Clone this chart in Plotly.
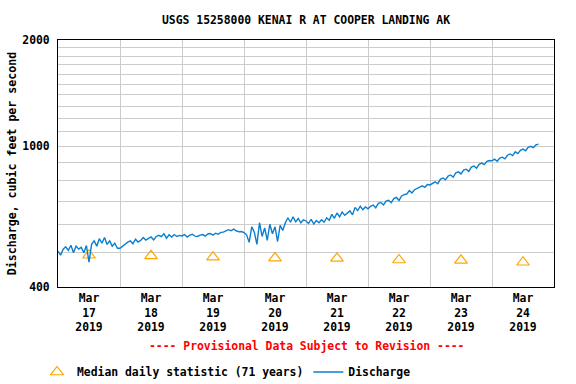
import pandas as pd
import plotly.graph_objects as go

# Median daily statistic (71 years), one value per day (plotted at noon)
median_days = ["2019-03-17", "2019-03-18", "2019-03-19", "2019-03-20",
               "2019-03-21", "2019-03-22", "2019-03-23", "2019-03-24"]
median_values = [492, 490, 486, 483, 482, 477, 476, 470]

# Discharge, hourly readings starting 2019-03-17 00:00 (cfs)
q_mar17 = [505, 492, 512, 520, 508, 525, 500, 522, 512, 518, 500, 524,
           470, 528, 540, 522, 548, 532, 552, 528, 540, 522, 532, 515]
q_mar18 = [515, 522, 530, 536, 540, 530, 546, 536, 542, 552, 543, 548,
           554, 544, 556, 560, 555, 566, 550, 562, 554, 563, 556, 560]
q_mar19 = [558, 563, 554, 561, 564, 557, 556, 561, 563, 557, 565, 567,
           561, 568, 564, 571, 572, 577, 581, 577, 583, 577, 573, 574]
q_mar20 = [570, 562, 535, 592, 572, 528, 608, 556, 588, 542, 602, 566,
           592, 538, 598, 578, 608, 628, 610, 632, 612, 625, 608, 620]
q_mar21 = [615, 605, 622, 603, 617, 608, 620, 610, 628, 618, 642, 626,
           648, 632, 652, 638, 648, 657, 640, 672, 658, 677, 662, 674]
q_mar22 = [666, 677, 682, 670, 690, 694, 683, 700, 704, 693, 712, 717,
           703, 724, 730, 733, 750, 738, 754, 760, 763, 773, 766, 780]
q_mar23 = [778, 787, 794, 784, 807, 814, 804, 824, 830, 818, 842, 847,
           836, 857, 862, 850, 874, 880, 868, 890, 897, 888, 907, 912]
q_mar24 = [910, 920, 908, 927, 932, 922, 944, 952, 942, 965, 954, 974,
           982, 972, 994, 1000, 992, 1010, 1015]
discharge = q_mar17 + q_mar18 + q_mar19 + q_mar20 + q_mar21 + q_mar22 + q_mar23 + q_mar24
discharge_time = pd.date_range("2019-03-17 00:00", periods=len(discharge), freq="h")

# Axis labels
x_tick_days = median_days
x_tick_text = ["Mar<br>17<br>2019", "Mar<br>18<br>2019", "Mar<br>19<br>2019", "Mar<br>20<br>2019",
               "Mar<br>21<br>2019", "Mar<br>22<br>2019", "Mar<br>23<br>2019", "Mar<br>24<br>2019"]
y_grid_vals = [400, 500, 600, 700, 800, 900, 1000, 1100, 1200, 1300, 1400,
               1500, 1600, 1700, 1800, 1900, 2000]
y_label_vals = {400: "400", 1000: "1000", 2000: "2000"}

FONT = "DejaVu Sans Mono"
FS = 11.4

fig = go.Figure()
fig.add_trace(go.Scatter(
    x=[pd.Timestamp(d) + pd.Timedelta(hours=12) for d in median_days],
    y=median_values, mode="markers",
    name="Median daily statistic (71 years)",
    marker=dict(symbol="triangle-up-open", size=11, color="#FFA500",
                line=dict(width=1.2, color="#FFA500")),
))
fig.add_trace(go.Scatter(
    x=discharge_time, y=discharge, mode="lines", name="Discharge",
    line=dict(color="#0a7fd0", width=1.4),
))

fig.update_layout(
    width=576, height=384,
    margin=dict(l=58, r=22, t=40, b=97, autoexpand=False),
    paper_bgcolor="white", plot_bgcolor="white",
    font=dict(family=FONT, size=FS, color="black", weight="bold"),
    title=dict(text="USGS 15258000 KENAI R AT COOPER LANDING AK",
               x=0.5, xref="paper", xanchor="center",
               y=1 - 20 / 384, yref="container", yanchor="middle",
               font=dict(family=FONT, size=FS, weight="bold")),
    showlegend=True,
    legend=dict(orientation="h", xref="container", yref="container",
                x=37 / 576, xanchor="left", y=1 - 372 / 384, yanchor="middle",
                font=dict(family=FONT, size=FS, weight="bold"),
                bgcolor="rgba(0,0,0,0)", itemwidth=30, tracegroupgap=0),
    annotations=[dict(text="---- Provisional Data Subject to Revision ----",
                      xref="paper", yref="paper", x=0.5, y=-59 / 247,
                      xanchor="center", yanchor="middle", showarrow=False,
                      font=dict(family=FONT, size=FS, color="red", weight="bold"))],
)

fig.update_xaxes(
    type="date", range=["2019-03-17 00:00", "2019-03-25 00:00"],
    tickvals=[pd.Timestamp(d) + pd.Timedelta(hours=12) for d in x_tick_days],
    ticktext=x_tick_text, ticks="", showgrid=False, automargin=False,
    minor=dict(tick0="2019-03-17", dtick=86400000, showgrid=True,
               gridcolor="#cccccc", gridwidth=1, ticks=""),
    showline=True, linecolor="black", linewidth=1, mirror=True,
    zeroline=False, tickfont=dict(family=FONT, size=FS, weight="bold"),
)
fig.update_yaxes(
    type="log", range=[2.60206, 3.30103], automargin=False,
    tickvals=y_grid_vals,
    ticktext=[y_label_vals.get(v, "") for v in y_grid_vals],
    ticks="", showgrid=True, gridcolor="#cccccc", gridwidth=1,
    ticklabelstandoff=5,
    showline=True, linecolor="black", linewidth=1, mirror=True,
    zeroline=False, tickfont=dict(family=FONT, size=FS, weight="bold"),
    title=dict(text="Discharge, cubic feet per second", standoff=3,
               font=dict(family=FONT, size=11.6, weight="bold")),
)

fig.write_html("out.html", config={"displayModeBar": False},
               post_script="document.body.style.margin='0';")
